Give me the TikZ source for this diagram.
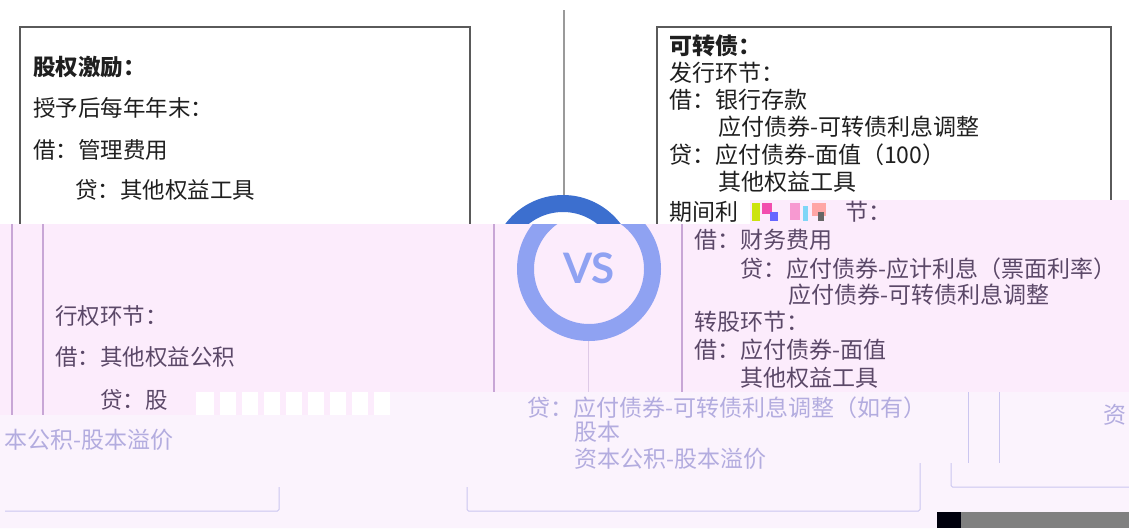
\documentclass[tikz,border=0pt]{standalone}
\usepackage{fontspec}
\newfontfamily\cjk{Noto Sans CJK SC}
\newfontfamily\vsfont{Lato}
\definecolor{boxline}{HTML}{5A5A5A}
\definecolor{midline}{HTML}{9A9A9A}
\definecolor{ringdark}{HTML}{3C6FCF}
\definecolor{ringlight}{HTML}{8FA2F2}
\definecolor{bandtwo}{HTML}{FCECFC}
\definecolor{bandthree}{HTML}{FBF3FD}
\definecolor{texttwo}{HTML}{5B4868}
\definecolor{linetwo}{HTML}{C8A6D6}
\definecolor{textthree}{HTML}{B3ACDF}
\definecolor{linethree}{HTML}{CBC6F0}
\begin{document}
\begin{tikzpicture}[x=1pt,y=-1pt,
  txt/.style={inner sep=0pt, anchor=west, font=\cjk\fontsize{23}{23}\selectfont, text=black!88},
  txtl/.style={txt, font=\cjk\fontsize{22.5}{22.5}\selectfont},
  hd/.style={txt, font=\cjk\bfseries\fontsize{23}{23}\selectfont},
  hdl/.style={txt, font=\cjk\bfseries\fontsize{22.5}{22.5}\selectfont},
  ttwo/.style={txt, text=texttwo},
  ttwol/.style={txtl, text=texttwo},
  tthree/.style={txt, text=textthree},
  bline/.style={draw=boxline, line width=1.3pt},
  lntwo/.style={draw=linetwo, line width=1.2pt},
  lnthree/.style={draw=linethree, line width=1pt, rounded corners=1.5pt}]
\useasboundingbox (0,0) rectangle (1129,528);
\fill[white] (0,0) rectangle (1129,528);
% ---------- band 1 ----------
\draw[bline] (20,224) -- (20,27) -- (470,27) -- (470,224);
\draw[bline] (657,224) -- (657,27) -- (1111,27) -- (1111,200);
\coordinate (mtop) at (564,10);
\coordinate (mbot) at (564,197);
\draw[midline, line width=1.2pt] (mtop) -- (mbot);
\begin{scope}
  \clip (0,0) rectangle (750,224);
  \draw[ringdark, line width=17pt] (563,267) circle[radius=63.5pt];
\end{scope}
\node[hdl] (a1) at (33,67) {股权激励：};
\node[txtl] (a2) at (33,108) {授予后每年年末：};
\node[txtl] (a3) at (33,150) {借：管理费用};
\node[txtl] (a4) at (75,190) {贷：其他权益工具};
\node[hd] (b1) at (669,46) {可转债：};
\node[txt] (b2) at (669,73) {发行环节：};
\node[txt] (b3) at (669,100) {借：银行存款};
\node[txt] (b4) at (718,127) {应付债券-可转债利息调整};
\node[txt] (b5) at (669,155) {贷：应付债券-面值（100）};
\node[txt] (b6) at (718,182) {其他权益工具};
\node[txt] (b7) at (669,212) {期间利};
% ---------- band 2 ----------
\fill[bandtwo] (0,224) -- (750,224) -- (750,200) -- (1129,200) -- (1129,392)
  -- (196,392) -- (196,415) -- (0,415) -- cycle;
% glitch blocks
\fill[yellow!80!green] (752,203) rectangle (760,221);
\fill[magenta!70] (762,203) rectangle (772,214);
\fill[blue!60] (770,212) rectangle (778,221);
\fill[magenta!40] (790,203) rectangle (800,220);
\fill[cyan!50] (803,206) rectangle (808,221);
\fill[red!35] (812,203) rectangle (826,216);
\fill[black!60] (818,212) rectangle (824,221);
\draw[lntwo] (12,224) -- (12,415);
\draw[lntwo] (43,224) -- (43,415);
\draw[lntwo] (494,224) -- (494,392);
\draw[lntwo] (682,224) -- (682,392);
\draw[linetwo!60, line width=0.8pt] (588,341) -- (588,392);
\begin{scope}
  \clip (0,224) rectangle (750,392);
  \draw[ringlight, line width=17pt] (589,269) circle[radius=63.5pt];
\end{scope}
\node[inner sep=0pt, text=ringlight, font=\vsfont\bfseries\fontsize{42}{42}\selectfont] (vs) at (589,268) {VS};
\node[ttwol] (c1) at (55,316) {行权环节：};
\node[ttwol] (c2) at (55,357) {借：其他权益公积};
\node[ttwol] (c3) at (100,400) {贷：股};
\node[ttwo] (d0) at (845,212) {节：};
\node[ttwo] (d1) at (694,240) {借：财务费用};
\node[ttwo] (d2) at (740,269) {贷：应付债券-应计利息（票面利率）};
\node[ttwo] (d3) at (788,295) {应付债券-可转债利息调整};
\node[ttwo] (d4) at (694,322) {转股环节：};
\node[ttwo] (d5) at (694,350) {借：应付债券-面值};
\node[ttwo] (d6) at (740,378) {其他权益工具};
% ---------- band 3 ----------
\fill[bandthree] (0,415) -- (196,415) -- (196,392) -- (1129,392) -- (1129,528) -- (0,528) -- cycle;
\fill[white] (196,392) rectangle (390,415);
\foreach \sx in {214,236,258,280,302,324,346,368}
  \fill[bandtwo] (\sx,392) rectangle (\sx+6,415);
\node[tthree] (e1) at (4,440) {本公积-股本溢价};
\begin{scope}
  \clip (0,392) rectangle (1129,528);
  \node[tthree] (e5) at (1103,415) {资};
\end{scope}
\node[tthree] (e2) at (527,408) {贷：应付债券-可转债利息调整（如有）};
\node[tthree] (e3) at (574,432) {股本};
\node[tthree] (e4) at (574,459) {资本公积-股本溢价};
\draw[lnthree] (5,511) -- (279,511) -- (279,487);
\draw[lnthree] (467,487) -- (467,511) -- (920,511) -- (920,463);
\draw[lnthree] (951,463) -- (951,487) -- (1129,487);
\draw[lnthree] (968,392) -- (968,463);
\draw[lnthree] (999,392) -- (999,463);
\fill[black!95!blue] (937,512) rectangle (961,528);
\fill[black!50] (961,512) rectangle (1129,528);
\end{tikzpicture}
\end{document}
